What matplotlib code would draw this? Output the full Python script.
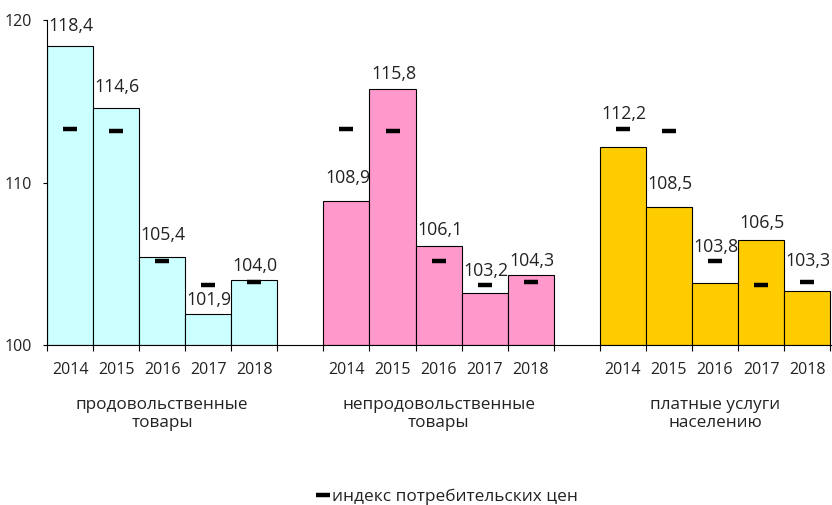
import numpy as np
import matplotlib.pyplot as plt
from matplotlib.lines import Line2D

plt.rcParams['font.family'] = ['Open Sans', 'DejaVu Sans']

years = ['2014', '2015', '2016', '2017', '2018']
groups = ['продовольственные\nтовары', 'непродовольственные\nтовары', 'платные услуги\nнаселению']
food = [118.4, 114.6, 105.4, 101.9, 104.0]
nonfood = [108.9, 115.8, 106.1, 103.2, 104.3]
services = [112.2, 108.5, 103.8, 106.5, 103.3]
cpi = [113.3, 113.2, 105.2, 103.7, 103.9]
colors = ['#CCFFFF', '#FF99CC', '#FFCC00']

# label lift above bar top (pixels), moved by hand off the CPI dashes
lift = [[15, 16, 17.5, 9, 9.3],
        [18, 9.3, 10.7, 17.3, 9.3],
        [27.7, 17.7, 31.7, 11.7, 25.6]]

txt = '#222222'
fig = plt.figure(figsize=(8.32, 5.05), dpi=100)
ax = fig.add_axes([47/832, 160/505, 785/832, 324.5/505])

base = 100
all_pos = []
all_lab = []
for g, (vals, col) in enumerate(zip([food, nonfood, services], colors)):
    pos = np.arange(5) + g*6
    ax.bar(pos, np.array(vals) - base, bottom=base, width=1.0, color=col,
           edgecolor='black', linewidth=0.8, zorder=2)
    ax.plot(pos, cpi, ls='none', marker='_', ms=10.5, mew=3.2, color='black', zorder=3)
    for x, v, dy in zip(pos, vals, lift[g]):
        ax.annotate(f'{v:.1f}'.replace('.', ','), (x, v), xytext=(0.8, dy*0.72),
                    textcoords='offset points', ha='center', va='baseline',
                    fontsize=12.8, color=txt, annotation_clip=False, zorder=4)
    ax.annotate(groups[g], (pos.mean(), 0), xycoords=('data', 'axes fraction'),
                xytext=(0, -37.5), textcoords='offset points', ha='center', va='top',
                fontsize=12.3, color=txt, linespacing=1.12)
    all_pos += list(pos)
    all_lab += years

ax.set_xlim(-0.5, 16.54)
ax.set_ylim(100, 120)
ax.set_yticks([100, 110, 120])
ax.set_xticks(all_pos, all_lab)
edges = [g*6 - 0.5 + k for g in range(3) for k in range(6)]
ax.set_xticks(edges, minor=True)
ax.tick_params(axis='x', which='major', length=0, pad=12.5, labelsize=11.5, labelcolor=txt)
ax.tick_params(axis='x', which='minor', length=4, width=0.8, direction='out')
ax.tick_params(axis='y', length=3, width=0.8, pad=7.5, labelsize=11.5, labelcolor=txt)

for s in ['top', 'right']:
    ax.spines[s].set_visible(False)
ax.spines['left'].set_linewidth(0.8)
ax.spines['bottom'].set_linewidth(0.8)

handle = Line2D([], [], ls='none', marker='_', ms=10.5, mew=3.2, color='black')
fig.legend([handle], ['индекс потребительских цен'], loc='center',
           bbox_to_anchor=(0.537, 0.017), frameon=False, fontsize=12.4,
           handlelength=0.8, handletextpad=0.1, labelcolor=txt)

fig.savefig('out.png', dpi=100)
